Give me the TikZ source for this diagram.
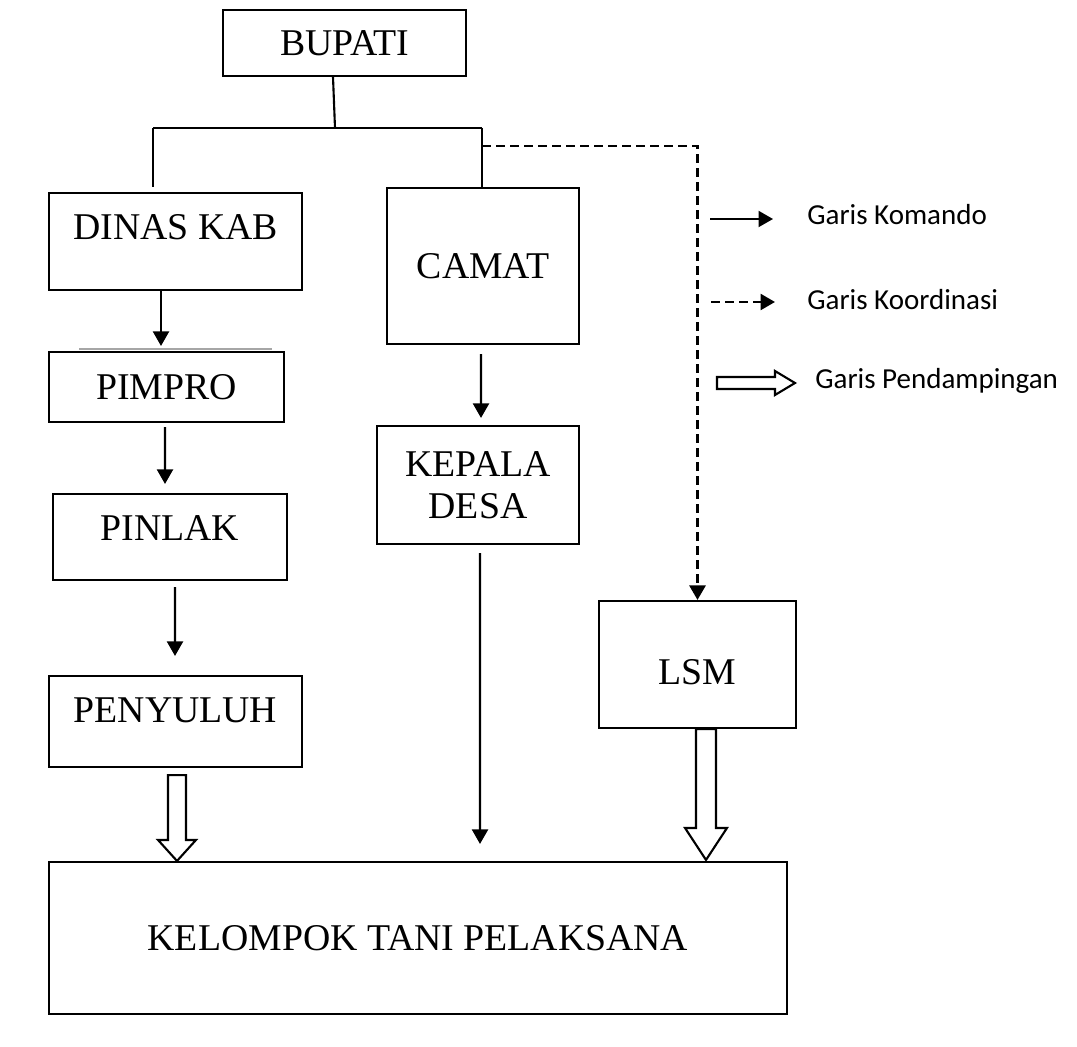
\documentclass[tikz,border=0pt]{standalone}
\usepackage{fontspec}
\setmainfont{Liberation Serif}
\newfontfamily\legendfont{Carlito}
\usetikzlibrary{arrows.meta,calc}

\tikzset{
  unit/.style={draw, very thick, inner sep=0pt, align=center,
    font=\fontsize{21.5}{23.9}\selectfont},
  cmd/.style={very thick, -{Triangle[length=0.29cm,width=0.32cm]}},
  koord/.style={cmd, line width=1.5pt, dash pattern=on 0.17cm off 0.11cm},
  pendamping/.style n args={3}{draw, very thick, fill=white,
    to path={let \p1=(\tikztostart), \p2=(\tikztotarget) in
      (\x1-#1,\y1) -- (\x1-#1,\y2+#3) -- (\x1-#2,\y2+#3) -- (\x1,\y2)
      -- (\x1+#2,\y2+#3) -- (\x1+#1,\y2+#3) -- (\x1+#1,\y1) -- cycle}},
  legend/.style={anchor=base west, inner sep=0pt,
    font=\legendfont\fontsize{16.5}{19.8}\selectfont}
}

\begin{document}
\begin{tikzpicture}
  \useasboundingbox (0,0) rectangle (21.54,20.92);

  % Boxes
  \node [unit, minimum width=4.86cm, minimum height=1.32cm] (bupati) at (6.89,20.06) {BUPATI};
  \node [unit, minimum width=5.06cm, minimum height=1.94cm, text depth=0.58cm] (dinas) at (3.51,16.09) {DINAS KAB};
  \node [unit, minimum width=3.84cm, minimum height=3.12cm] (camat) at (9.66,15.60) {CAMAT};
  \node [unit, minimum width=4.70cm, minimum height=1.40cm] (pimpro) at (3.33,13.18) {PIMPRO};
  \node [unit, minimum width=4.68cm, minimum height=1.72cm, text depth=0.36cm] (pinlak) at (3.40,10.18) {PINLAK};
  \node [unit, minimum width=4.04cm, minimum height=2.36cm] (kades) at (9.56,11.22) {KEPALA\\DESA};
  \node [unit, minimum width=5.06cm, minimum height=1.82cm, text depth=0.46cm] (penyuluh) at (3.51,6.49) {PENYULUH};
  \node [unit, minimum width=3.94cm, minimum height=2.54cm, text height=0.8cm] (lsm) at (13.95,7.63) {LSM};
  \node [unit, minimum width=14.76cm, minimum height=3.04cm] (poktan) at (8.36,2.16) {KELOMPOK TANI PELAKSANA};
  \draw [gray!70, line width=1.4pt] ($(pimpro.north)+(-1.75,0.04)$) -- ($(pimpro.north)+(2.11,0.04)$);

  % Bupati to Dinas and Camat
  \coordinate (busL) at (3.06,18.36);
  \coordinate (busR) at (9.64,18.36);
  \draw [very thick] ($(bupati.south)+(-0.23,0)$) -- ($(busL)+(3.64,0)$);
  \draw [very thick] (busL) -- (busR);
  \draw [very thick] (busL) -- ($(busL |- dinas.north)+(0,0.1)$);
  \draw [very thick] (busR) -- (busR |- camat.north);

  % Koordinasi to LSM
  \coordinate (dashstart) at ($(busR)+(0,-0.36)$);
  \draw [koord] (dashstart) -| (lsm.north);

  % Komando
  \draw [cmd] ($(dinas.south)+(-0.29,0)$) -- ($(pimpro.north)+(-0.11,0.1)$);
  \draw [cmd] ($(pimpro.south)+(-0.03,-0.08)$) -- ($(pinlak.north)+(-0.10,0.18)$);
  \draw [cmd] ($(pinlak.south)+(0.10,-0.12)$) -- ($(penyuluh.north)+(-0.01,0.38)$);
  \draw [cmd] ($(camat.south)+(-0.04,-0.18)$) -- ($(kades.north)+(0.06,0.14)$);
  \draw [cmd] ($(kades.south)+(0.04,-0.16)$) -- ($(poktan.north)+(1.24,0.34)$);

  % Pendampingan
  \draw [pendamping={0.18cm}{0.38cm}{0.42cm}] ($(penyuluh.south)+(0.03,-0.14)$) to ($(poktan.north)+(-4.82,0)$);
  \draw [pendamping={0.2cm}{0.42cm}{0.64cm}] ($(lsm.south)+(0.17,0)$) to ($(poktan.north)+(5.76,0.02)$);

  % Legend
  \node [legend] (lgKomando) at (16.14,16.42) {Garis Komando};
  \node [legend] (lgKoord) at (16.14,14.72) {Garis Koordinasi};
  \node [legend] (lgDamping) at (16.30,13.14) {Garis Pendampingan};
  \draw [cmd] ($(lgKomando.base west)+(-1.94,0.12)$) -- ($(lgKomando.base west)+(-0.68,0.12)$);
  \draw [koord] ($(lgKoord.base west)+(-1.92,0.16)$) -- ($(lgKoord.base west)+(-0.64,0.16)$);
  \draw [very thick] ($(lgDamping.base west)+(-1.96,0)$) -- ++(1.16,0) -- ++(0,-0.12)
    -- ++(0.4,0.24) -- ++(-0.4,0.24) -- ++(0,-0.12) -- ++(-1.16,0) -- cycle;
\end{tikzpicture}
\end{document}
